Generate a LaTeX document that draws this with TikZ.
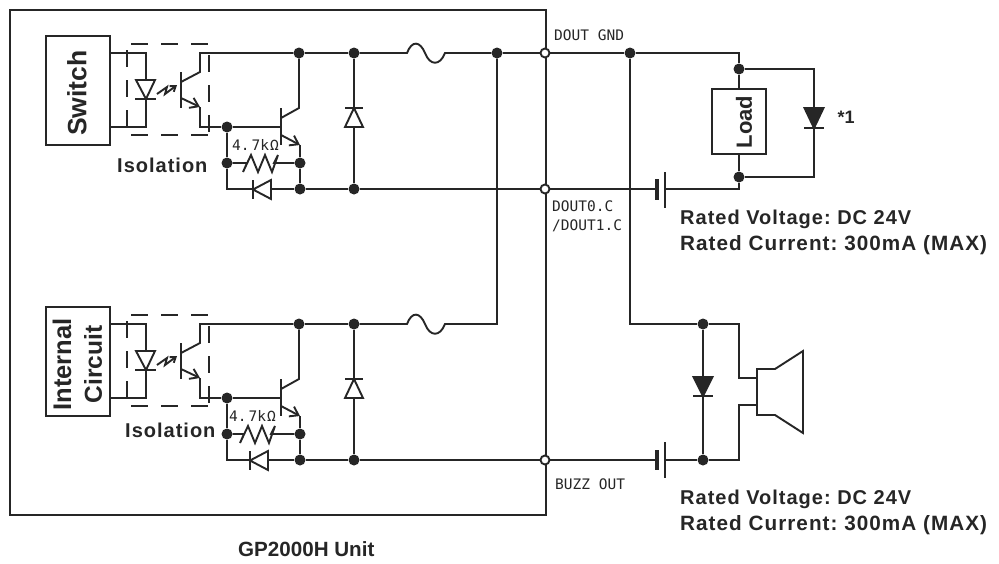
\documentclass[tikz,border=0pt]{standalone}
\usepackage{fontspec}
\setmainfont{Liberation Sans}
\newfontfamily\thinfont{DejaVu Sans Mono}
\newfontfamily\widefont[LetterSpace=5]{Liberation Sans}
\usetikzlibrary{arrows.meta}
\begin{document}
\begin{tikzpicture}
	[	x=1pt,y=-1pt,line join=miter,
	wire/.style={draw=black!85,line width=1.9pt},
	fence/.style={draw=black!85,line width=1.9pt,dash pattern=on 17pt off 13pt},
	part/.style={draw=black!85,line width=1.9pt,fill=white},
	solid part/.style={draw=black!85,line width=1.9pt,fill=black!85},
	dot/.style={circle,fill=black!85,inner sep=0pt,minimum size=11pt},
	hollow/.style={circle,draw=black!85,line width=1.9pt,fill=white,inner sep=0pt,minimum size=9pt},
	blockbox/.style={rectangle,draw=black!85,line width=2pt,fill=white,inner sep=0pt},
	title/.style={font=\widefont\bfseries\fontsize{20}{20}\selectfont\frenchspacing,text=black!85,anchor=west,inner sep=0pt},
	long title/.style={font=\widefont\bfseries\fontsize{20.7}{20.7}\selectfont\frenchspacing,text=black!85,anchor=west,inner sep=0pt},
	pin/.style={font=\thinfont\fontsize{14.5}{14.5}\selectfont,text=black!85,anchor=west,inner sep=0pt},
	]
	\useasboundingbox (0,0) rectangle (999,563);
	\fill[white] (0,0) rectangle (999,563);
	\node[blockbox,name=unit,minimum width=536pt,minimum height=505pt,anchor=north west] at (9,9){};
	\node[blockbox,name=switch box,minimum width=64pt,minimum height=109pt,anchor=north west] at (45,35){};
	\node[blockbox,name=circuit box,minimum width=64pt,minimum height=109pt,anchor=north west] at (45,306){};

	% the two output channels
	\foreach \ch/\dy/\rx/\dx in {a/0/0/0,b/271/-3/-3}{
		\begin{scope}[yshift=-\dy pt]
			\draw[fence] (131,44) -- (209,44);
			\draw[fence] (131,135) -- (209,135);
			\draw[fence] (127,50) -- (127,131);
			\draw[fence] (209,55) -- (209,135);
			% LED
			\coordinate (led top \ch) at (146,53);
			\coordinate (led bot \ch) at (146,127);
			\draw[wire] (109,53) -- (led top \ch) -- (led bot \ch) -- (109,127);
			\draw[part] (136,80) -- (155,80) -- (146,99) -- cycle;
			\draw[wire] (135,99) -- (156,99);
			\draw[wire,-{Straight Barb[length=5pt,width=7pt]}] (157,94) -- (167,87) -- (165,94) -- (177,85);
			% opto transistor
			\coordinate (opto c \ch) at (200,53);
			\coordinate (opto e \ch) at (200,127);
			\node[dot,name=base \ch] at (227,127){};
			\node[dot,name=coll \ch] at (299,53){};
			\node[dot,name=rail \ch] at (354,53){};
			\node[dot,name=res l \ch] at (227,163){};
			\node[dot,name=res r \ch] at (300,163){};
			\node[dot,name=emit \ch] at (300,189){};
			\node[dot,name=low \ch] at (354,189){};
			\draw[wire] (181,72) -- (181,108);
			\draw[wire] (181,82) -- (200,72) -- (opto c \ch) -- (coll \ch);
			\draw[wire,-{Straight Barb[length=8pt,width=11pt]}] (181,98) -- (200,107);
			\draw[wire] (200,107) -- (opto e \ch) -- (base \ch);
			% output transistor
			\draw[wire] (base \ch) -- (281,127);
			\draw[wire] (281,108) -- (281,145);
			\draw[wire] (coll \ch) -- (299,108) -- (281,118);
			\draw[wire,-{Straight Barb[length=8pt,width=11pt]}] (281,135) -- (300,145);
			\draw[wire] (300,145) -- (res r \ch);
			\draw[wire] (res r \ch) -- (emit \ch);
			\draw[wire] (coll \ch) -- (rail \ch);
			% resistor and diode under the transistor
			\draw[wire] (base \ch) -- (res l \ch);
			\draw[wire] (res l \ch) -- (247+\rx,163) -- (243+\rx,172) -- (251+\rx,155) -- (258+\rx,172) -- (265+\rx,155) -- (272+\rx,172) -- (278+\rx,155) -- (274+\rx,163) -- (res r \ch);
			\node[pin,name=ohm \ch] at (232+\rx,145) {4.\hspace{2pt}7k\hspace{1pt}Ω};
			\draw[wire] (res l \ch) -- (227,189) -- (emit \ch);
			\draw[part] (271+\dx,180) -- (271+\dx,199) -- (253+\dx,189.5) -- cycle;
			\draw[wire] (253+\dx,180) -- (253+\dx,199);
			\draw[wire] (emit \ch) -- (low \ch);
			% clamp diode
			\draw[wire] (rail \ch) -- (low \ch);
			\draw[part] (345,127) -- (363,127) -- (354,108) -- cycle;
			\draw[wire] (345,108) -- (363,108);
		\end{scope}
	}
	% fuses
	\node[dot,name=fuse rail] at (497,53){};
	\draw[wire] (rail a) -- (407,53) .. controls (412,40) and (420,41) .. (425,53) .. controls (430,66) and (440,66) .. (445,53) -- (fuse rail);
	\draw[wire] (rail b) -- (407,324) .. controls (412,311) and (420,312) .. (425,324) .. controls (430,337) and (440,337) .. (445,324) -- (497,324) -- (fuse rail);

	% terminals
	\node[hollow,name=gnd] at (545,53){};
	\node[hollow,name=dout] at (545,189){};
	\node[hollow,name=buzz] at (545,460){};
	\draw[wire] (fuse rail) -- (gnd);
	\draw[wire] (low a) -- (dout);
	\draw[wire] (low b) -- (buzz);

	% load side
	\node[dot,name=gnd split] at (630,53){};
	\node[dot,name=load top] at (739,69){};
	\node[dot,name=load bot] at (739,177){};
	\node[blockbox,name=load,minimum width=54pt,minimum height=65pt] at (739,121.5){};
	\node[font=\bfseries\fontsize{22}{22}\selectfont,text=black!85,rotate=90,inner sep=0pt,name=load text] at (744,122) {Load};
	\draw[wire] (gnd) -- (gnd split);
	\draw[wire] (gnd split) -- (739,53) -- (load top);
	\draw[wire] (load top) -- (load);
	\draw[wire] (load) -- (load bot);
	\draw[wire] (load top) -| (814,177) -- (load bot);
	\draw[solid part] (804.5,108) -- (823.5,108) -- (814,128) -- cycle;
	\draw[wire] (804,128) -- (824,128);
	\node[font=\bfseries\fontsize{18}{18}\selectfont,text=black!85,inner sep=0pt,name=note] at (846,117) {*1};

	% battery of the load
	\coordinate (cell a) at (665,189);
	\coordinate (cell b) at (657,189);
	\draw[wire] (dout) -- (cell b);
	\draw[wire] (cell a) -- (739,189) -- (load bot);
	\draw[wire] (665,172) -- (665,208);
	\draw[black!85,line width=3.6pt] (657,179) -- (657,200);

	% buzzer side
	\node[dot,name=buzz top] at (703,324){};
	\node[dot,name=buzz bot] at (703,460){};
	\draw[wire] (gnd split) -- (630,324) -- (buzz top);
	\draw[wire] (buzz top) -- (buzz bot);
	\draw[solid part] (693.5,377) -- (712.5,377) -- (703,396) -- cycle;
	\draw[wire] (693,396) -- (713,396);
	\draw[wire] (buzz top) -- (739,324) -- (739,378) -- (757,378);
	\draw[wire] (buzz bot) -- (739,460) -- (739,405) -- (757,405);
	\draw[wire] (757,369) -- (775,369) -- (803,351) -- (803,433) -- (775,415) -- (757,415) -- cycle;
	\coordinate (cell c) at (665,460);
	\coordinate (cell d) at (657,460);
	\draw[wire] (buzz) -- (cell d);
	\draw[wire] (cell c) -- (buzz bot);
	\draw[wire] (665,442) -- (665,478);
	\draw[black!85,line width=3.6pt] (657,450) -- (657,470);

	% labels
	\node[font=\bfseries\fontsize{26.5}{26.5}\selectfont,text=black!85,rotate=90,inner sep=0pt,name=switch] at (77,93) {Switch};
	\node[font=\bfseries\fontsize{25.5}{25.5}\selectfont,text=black!85,rotate=90,inner sep=0pt,name=internal] at (62,364.5) {Internal};
	\node[font=\bfseries\fontsize{24.5}{24.5}\selectfont,text=black!85,rotate=90,inner sep=0pt,name=circuit] at (93,364.5) {Circuit};
	\node[title,name=iso a] at (117,165) {Isolation};
	\node[title,name=iso b] at (125,430) {Isolation};
	\node[pin,name=l gnd] at (554,35) {DOUT GND};
	\node[pin,name=l dout] at (552,206) {DOUT0.C};
	\node[pin,name=l dout1] at (552,226) {/DOUT1.C};
	\node[pin,name=l buzz] at (555,484) {BUZZ OUT};
	\node[title,name=rate a] at (680,219) {Rated Voltage: DC 24V};
	\node[long title,name=cur a] at (680,245) {Rated Current: 300mA (MAX)};
	\node[title,name=rate b] at (680,499) {Rated Voltage: DC 24V};
	\node[long title,name=cur b] at (680,525) {Rated Current: 300mA (MAX)};
	\node[font=\bfseries\fontsize{20.6}{20.6}\selectfont,text=black!85,anchor=west,inner sep=0pt,name=unit text] at (238,549) {GP2000H Unit};
\end{tikzpicture}
\end{document}
